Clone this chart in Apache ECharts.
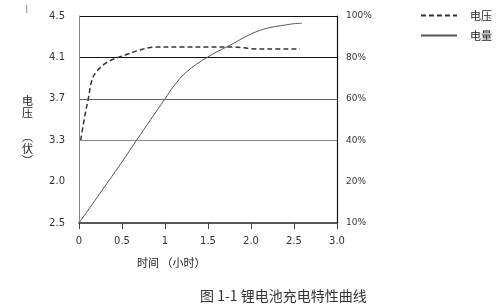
<!DOCTYPE html>
<html><head><meta charset="utf-8">
<script src="https://cdn.jsdelivr.net/npm/echarts@6/dist/echarts.min.js"></script>
<style>html,body{margin:0;padding:0;background:#fff}#c{width:500px;height:306px}</style>
</head><body><div id="c"></div>
<script>
var xTickLabels = ['0','0.5','1','1.5','2.0','2.5','3.0'];
var voltTickLabels = ['2.5','2.0','3.3','3.7','4.1','4.5'];
var capTickLabels = ['10%','20%','40%','60%','80%','100%'];
var voltTime = [0.02,0.06,0.11,0.15,0.21,0.34,0.53,0.70,0.88,1.20,1.50,1.80,2.00,2.20,2.57];
var voltValues = [3.30,3.50,3.71,3.88,3.97,4.06,4.12,4.17,4.20,4.20,4.20,4.20,4.185,4.18,4.18];
var capTime = [0,0.50,0.67,1.00,1.10,1.25,1.49,1.76,2.10,2.45,2.59];
var capValues = [0,29.5,40,60,66,73,80,86,93,96,96.5];
var seriesNames = ['电压','电量'];

var chart = echarts.init(document.getElementById('c'));
var font = 'DejaVu Sans';
chart.setOption({
  animation:false,
  backgroundColor:'#fff',
  grid:{left:79,right:163,top:16,bottom:83},
  legend:{
    orient:'vertical', right:3, top:5, itemWidth:36, itemHeight:10, itemGap:9,
    itemStyle:{opacity:0},
    textStyle:{fontFamily:'Noto Sans CJK SC',fontSize:11,color:'#222',padding:[0,0,0,8]},
    data:seriesNames
  },
  xAxis:{
    type:'value', min:0, max:3, interval:0.5,
    axisLine:{lineStyle:{color:'#222',width:1.5}},
    axisTick:{show:true,length:6,lineStyle:{color:'#444'}},
    axisLabel:{margin:13,fontFamily:font,fontSize:10,color:'#333',
      formatter:function(v){return xTickLabels[Math.round(v/0.5)];}},
    splitLine:{show:false}
  },
  yAxis:[{
    type:'value', min:2.5, max:4.5, interval:0.4,
    axisLine:{show:true,lineStyle:{color:'#888'}},
    axisTick:{show:false},
    axisLabel:{margin:14,fontFamily:font,fontSize:10,color:'#333',
      formatter:function(v){return voltTickLabels[Math.round((v-2.5)/0.4)];}},
    splitLine:{show:true,lineStyle:{color:['rgba(0,0,0,0)','rgba(0,0,0,0)','#8a8a8a','#666','#111','#111'],width:1}}
  },{
    type:'value', min:0, max:100, interval:20,
    axisLine:{show:true,lineStyle:{color:'#111',width:1.2}},
    axisTick:{show:false},
    axisLabel:{margin:9,fontFamily:font,fontSize:9,color:'#333',
      formatter:function(v){return capTickLabels[Math.round(v/20)];}},
    splitLine:{show:false}
  }],
  graphic:[
    {type:'text',left:22,top:95,style:{text:'电\n压\n\n︵\n伏\n︶',fontFamily:'Noto Sans CJK SC',fontSize:11,lineHeight:12,fill:'#222',align:'center'}},
    {type:'text',left:137,top:257,style:{text:'时间 （小时）',fontFamily:'Noto Sans CJK SC',fontSize:11,fill:'#222'}},
    {type:'text',left:200,top:289,style:{text:'图 1-1 锂电池充电特性曲线',fontFamily:'Noto Sans CJK SC',fontSize:14,fill:'#333'}},
    {type:'text',left:25,top:5,style:{text:'I',fontFamily:font,fontSize:11,fill:'#999'}}
  ],
  series:[{
    name:seriesNames[0], type:'line', yAxisIndex:0, symbol:'none', smooth:0.35,
    lineStyle:{color:'#333',width:1.5,type:[5,3]},
    itemStyle:{color:'#333'},
    data:voltTime.map(function(t,i){return [t,voltValues[i]];})
  },{
    name:seriesNames[1], type:'line', yAxisIndex:1, symbol:'none', smooth:0.4,
    lineStyle:{color:'#555',width:1},
    itemStyle:{color:'#555'},
    data:capTime.map(function(t,i){return [t,capValues[i]];})
  }]
});
</script></body></html>
